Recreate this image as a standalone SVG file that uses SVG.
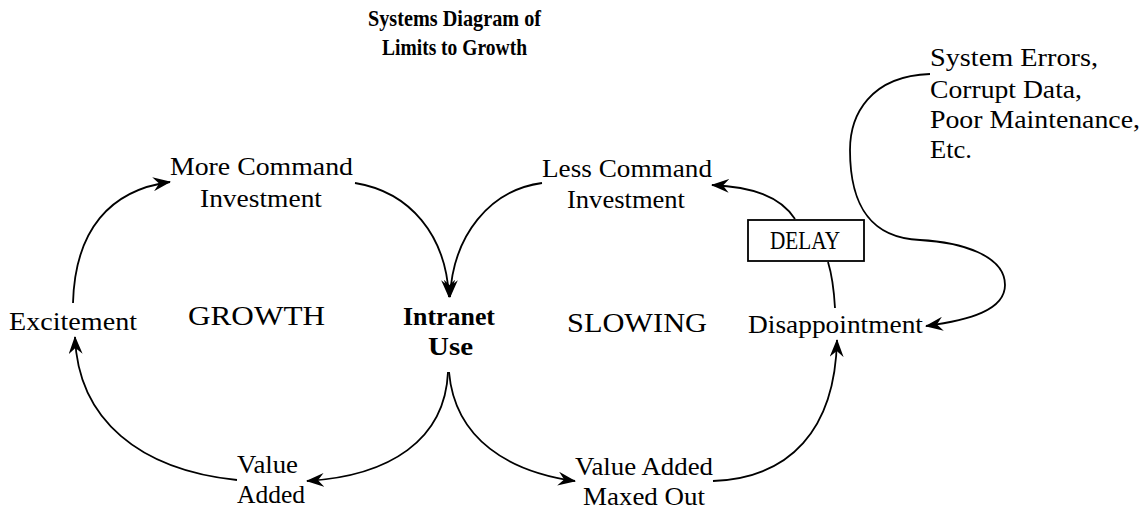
<svg xmlns="http://www.w3.org/2000/svg" width="1146" height="509" viewBox="0 0 1146 509">
<style>
text{font-family:"Liberation Serif","Times New Roman",serif;fill:#000;}
.t{font-size:25px;}
.b{font-size:25px;font-weight:bold;}
.big{font-size:27px;}
.ttl{font-size:23px;font-weight:bold;}
.c{fill:none;stroke:#000;stroke-width:1.8;}
.box{fill:#fff;stroke:#000;stroke-width:1.8;}
</style>
<defs>
<marker id="ah" viewBox="0 0 18 14" refX="17" refY="7" markerWidth="18" markerHeight="14" markerUnits="userSpaceOnUse" orient="auto">
<path d="M0,0 L18,7 L0,14 L6,7 z" fill="#000"/>
</marker>
</defs>
<rect width="1146" height="509" fill="#fff"/>
<g id="title">
<text class="ttl" x="368" y="26" textLength="173" lengthAdjust="spacingAndGlyphs">Systems Diagram of</text>
<text class="ttl" x="382" y="55" textLength="145" lengthAdjust="spacingAndGlyphs">Limits to Growth</text>
</g>
<g id="connectors">
<path class="c" d="M355,183 C410,192 446,235 449,297" marker-end="url(#ah)"/>
<path class="c" d="M542,183 C490,190 453,235 450,297" marker-end="url(#ah)"/>
<path class="c" d="M448,372 C445,440 390,476 307,481" marker-end="url(#ah)"/>
<path class="c" d="M237,480 C140,470 78,420 75,337" marker-end="url(#ah)"/>
<path class="c" d="M73,303 C75,230 110,190 170,182" marker-end="url(#ah)"/>
<path class="c" d="M449,372 C455,440 510,472 575,481" marker-end="url(#ah)"/>
<path class="c" d="M713,481 C790,478 835,430 837,340" marker-end="url(#ah)"/>
<path class="c" d="M835,308 C834,290 832,275 828,262"/>
<path class="c" d="M795,219 C780,196 752,187 712,185" marker-end="url(#ah)"/>
<path class="c" d="M930,74 C870,76 850,115 850,150 C850,205 870,238 920,240 C960,242 1005,255 1005,285 C1005,310 970,320 926,326" marker-end="url(#ah)"/>
</g>
<g id="more-command"><text class="t" x="170" y="175" textLength="183" lengthAdjust="spacingAndGlyphs">More Command</text><text class="t" x="200" y="207" textLength="122" lengthAdjust="spacingAndGlyphs">Investment</text></g>
<g id="excitement"><text class="t" x="9" y="330" textLength="128" lengthAdjust="spacingAndGlyphs">Excitement</text></g>
<g id="growth"><text class="big" x="188" y="325" textLength="137" lengthAdjust="spacingAndGlyphs">GROWTH</text></g>
<g id="intranet-use"><text class="b" x="403" y="325" textLength="92" lengthAdjust="spacingAndGlyphs">Intranet</text><text class="b" x="428" y="355" textLength="45" lengthAdjust="spacingAndGlyphs">Use</text></g>
<g id="value-added"><text class="t" x="237" y="473" textLength="61" lengthAdjust="spacingAndGlyphs">Value</text><text class="t" x="237" y="503" textLength="68" lengthAdjust="spacingAndGlyphs">Added</text></g>
<g id="less-command"><text class="t" x="542" y="177" textLength="170" lengthAdjust="spacingAndGlyphs">Less Command</text><text class="t" x="567" y="208" textLength="118" lengthAdjust="spacingAndGlyphs">Investment</text></g>
<g id="delay"><rect class="box" x="748" y="220" width="116" height="41"/><text class="t" x="770" y="249" font-size="22" textLength="70" lengthAdjust="spacingAndGlyphs">DELAY</text></g>
<g id="slowing"><text class="big" x="567" y="332" textLength="140" lengthAdjust="spacingAndGlyphs">SLOWING</text></g>
<g id="disappointment"><text class="t" x="748" y="333" textLength="175" lengthAdjust="spacingAndGlyphs">Disappointment</text></g>
<g id="value-added-maxed"><text class="t" x="575" y="475" textLength="138" lengthAdjust="spacingAndGlyphs">Value Added</text><text class="t" x="583" y="505" textLength="122" lengthAdjust="spacingAndGlyphs">Maxed Out</text></g>
<g id="system-errors">
<text class="t" x="930" y="66" textLength="168" lengthAdjust="spacingAndGlyphs">System Errors,</text>
<text class="t" x="930" y="98" textLength="152" lengthAdjust="spacingAndGlyphs">Corrupt Data,</text>
<text class="t" x="930" y="128" textLength="210" lengthAdjust="spacingAndGlyphs">Poor Maintenance,</text>
<text class="t" x="930" y="158" textLength="42" lengthAdjust="spacingAndGlyphs">Etc.</text>
</g>
</svg>
